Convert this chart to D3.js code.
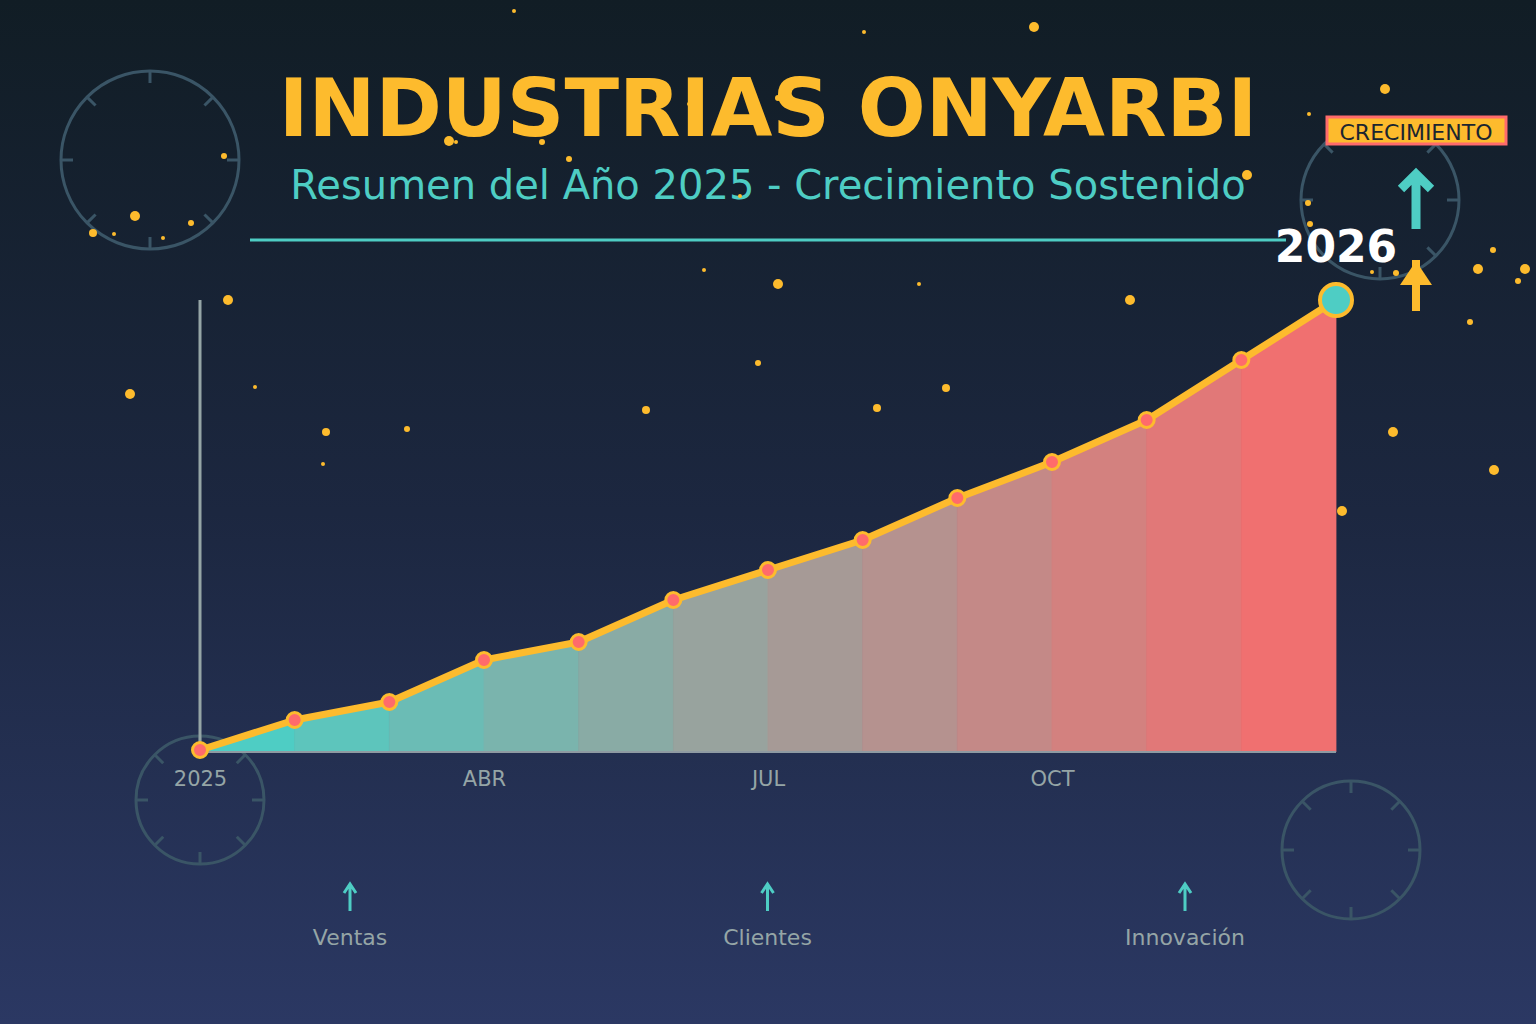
<!DOCTYPE html>
<html><head><meta charset="utf-8">
<script src="https://cdn.jsdelivr.net/npm/d3@7"></script>
<style>html,body{margin:0;padding:0;background:#111d25;}svg{display:block;}</style>
</head><body>
<svg id="c" width="1536" height="1024"></svg>
<script>
// ---- data ----
const periods = ["2025","FEB","MAR","ABR","MAY","JUN","JUL","AGO","SEP","OCT","NOV","DIC","2026"];
const values = [0,10,16,30,36,50,60,70,84,96,110,130,150];
const tickLabels = ["2025","ABR","JUL","OCT"];
const highlights = ["Ventas","Clientes","Innovación"];
const title = "INDUSTRIAS ONYARBI";
const subtitle = "Resumen del Año 2025 - Crecimiento Sostenido";
const endLabel = "2026";
const badge = "CRECIMIENTO";
// decorative sparkles [x, y, r]
const sparkles = [[514,11,2],[864,32,2],[1034,27,5],[1385,89,5],[1309,114,2],[1247,175,5],[1308,203,3],[1310,224,3],
 [1372,272,2],[1396,273,3],[1478,269,5],[1493,250,3],[1525,269,5],[1518,281,3],[1470,322,3],[224,156,3],[135,216,5],
 [191,223,3],[93,233,4],[114,234,2],[163,238,2],[449,141,5],[456,142,2],[542,142,3],[569,159,3],[704,270,2],[778,284,5],
 [919,284,2],[1130,300,5],[228,300,5],[130,394,5],[255,387,2],[326,432,4],[407,429,3],[323,464,2],[646,410,4],[758,363,3],
 [877,408,4],[946,388,4],[1393,432,5],[1494,470,5],[1342,511,5],[364,107,2],[689,104,2],[778,98,3],[740,196,2]];
// decorative clocks [cx, cy, r]
const clocks = [[150,160,89],[1380,200,79],[200,800,64],[1351,850,69]];

const svg = d3.select("#c");
const W = 1536, H = 1024;
const defs = svg.append("defs");
const bg = defs.append("linearGradient").attr("id","bg").attr("x1",0).attr("y1",0).attr("x2",0).attr("y2",1);
bg.append("stop").attr("offset","0%").attr("stop-color","#111d25");
bg.append("stop").attr("offset","50%").attr("stop-color","#1c2740");
bg.append("stop").attr("offset","100%").attr("stop-color","#2b3863");
svg.append("rect").attr("width",W).attr("height",H).attr("fill","url(#bg)");

// clocks
const clockG = svg.append("g");
clocks.forEach(([cx,cy,r])=>{
  const g = clockG.append("g").attr("transform",`translate(${cx},${cy})`);
  g.append("circle").attr("r",r).attr("fill","none").attr("stroke","#3a5566").attr("stroke-width",3);
  d3.range(8).forEach(i=>{
    const a = i*Math.PI/4;
    g.append("line").attr("x1",Math.sin(a)*r).attr("y1",-Math.cos(a)*r)
      .attr("x2",Math.sin(a)*(r-12)).attr("y2",-Math.cos(a)*(r-12))
      .attr("stroke","#3a5566").attr("stroke-width",3);
  });
});

// title
svg.append("text").attr("x",768).attr("y",136).attr("text-anchor","middle")
  .attr("font-family","DejaVu Sans").attr("font-weight","bold").attr("font-size",80)
  .attr("fill","#fdbb2d").text(title);
svg.append("text").attr("x",768).attr("y",199).attr("text-anchor","middle")
  .attr("font-family","DejaVu Sans").attr("font-size",40)
  .attr("fill","#4ecdc4").text(subtitle);
svg.append("line").attr("x1",250).attr("x2",1286).attr("y1",240).attr("y2",240)
  .attr("stroke","#4ecdc4").attr("stroke-width",3);

// scales
const x = d3.scalePoint().domain(periods).range([200,1336]);
const y = d3.scaleLinear().domain([0,150]).range([750,300]);
const base = y(0)+2;
const color = d3.interpolateRgb("#4ecdc4","#f07070");

// area segments
const area = d3.area().x(d=>x(d.p)).y0(base).y1(d=>y(d.v));
const pts = periods.map((p,i)=>({p, v:values[i]}));
const segG = svg.append("g");
for(let i=0;i<pts.length-1;i++){
  const c = color(i/(pts.length-2));
  segG.append("path").attr("d",area([pts[i],pts[i+1]]))
    .attr("fill",c).attr("stroke",c).attr("stroke-width",0.8);
}
// axes lines
svg.append("line").attr("x1",x(periods[0])).attr("x2",x(periods[0])).attr("y1",y(150)).attr("y2",base)
  .attr("stroke","#95a5a6").attr("stroke-width",3);
svg.append("line").attr("x1",x(periods[0])).attr("x2",x(periods[periods.length-1])).attr("y1",base).attr("y2",base)
  .attr("stroke","#8e9aa2").attr("stroke-width",2);

// tick labels
const xAxis = d3.axisBottom(x).tickValues(["2025","ABR","JUL","OCT"]).tickSize(0).tickPadding(0)
  .tickFormat((d,i)=>tickLabels[i]);
const ax = svg.append("g").attr("transform",`translate(0,${base})`).call(xAxis);
ax.select(".domain").remove();
ax.selectAll("text").attr("font-family","DejaVu Sans").attr("font-size",21).attr("fill","#95a5a6")
  .attr("dy",null).attr("y",34);

// line
const line = d3.line().x(d=>x(d.p)).y(d=>y(d.v));
svg.append("path").attr("d",line(pts)).attr("fill","none").attr("stroke","#fdbb2d")
  .attr("stroke-width",7).attr("stroke-linejoin","round").attr("stroke-linecap","round");

// sparkles
svg.append("g").selectAll("circle").data(sparkles).join("circle")
  .attr("cx",d=>d[0]).attr("cy",d=>d[1]).attr("r",d=>d[2]).attr("fill","#fdbb2d");

// points
svg.append("g").selectAll("circle").data(pts.slice(0,-1)).join("circle")
  .attr("cx",d=>x(d.p)).attr("cy",d=>y(d.v)).attr("r",7.5)
  .attr("fill","#ff6b6b").attr("stroke","#fdbb2d").attr("stroke-width",3);
const last = pts[pts.length-1];
svg.append("circle").attr("cx",x(last.p)).attr("cy",y(last.v)).attr("r",16)
  .attr("fill","#4ecdc4").attr("stroke","#fdbb2d").attr("stroke-width",4);

// 2026 label
svg.append("text").attr("x",x(last.p)).attr("y",y(last.v)-38).attr("text-anchor","middle")
  .attr("font-family","DejaVu Sans").attr("font-weight","bold").attr("font-size",44)
  .attr("fill","#ffffff").text(endLabel);

// badge
svg.append("rect").attr("x",1327).attr("y",117).attr("width",179).attr("height",27)
  .attr("fill","#fdbb2d").attr("stroke","#ff6b6b").attr("stroke-width",3);
svg.append("text").attr("x",1416).attr("y",140).attr("text-anchor","middle")
  .attr("font-family","DejaVu Sans").attr("font-size",22).attr("fill","#1b2530").text(badge);

// teal arrow
svg.append("path").attr("d","M1416,229 L1416,174 M1401,189 L1416,174 L1431,189")
  .attr("fill","none").attr("stroke","#4ecdc4").attr("stroke-width",9).attr("stroke-linejoin","miter");
// yellow arrow
svg.append("path").attr("d","M1416,260 L1416,311").attr("stroke","#fdbb2d").attr("stroke-width",8);
svg.append("path").attr("d","M1416,261 L1432,285 L1400,285 Z").attr("fill","#fdbb2d");

// bottom highlights
const hx = d3.scalePoint().domain(highlights).range([350,1185]);
const hg = svg.append("g").selectAll("g").data(highlights).join("g")
  .attr("transform",d=>`translate(${hx(d)},0)`);
hg.append("path").attr("d","M0,911 L0,885 M-6,893 L0,884 L6,893").attr("fill","none")
  .attr("stroke","#4ecdc4").attr("stroke-width",3);
hg.append("text").attr("y",945).attr("text-anchor","middle").attr("font-family","DejaVu Sans")
  .attr("font-size",22).attr("fill","#95a5a6").text(d=>d);
</script>
</body></html>
